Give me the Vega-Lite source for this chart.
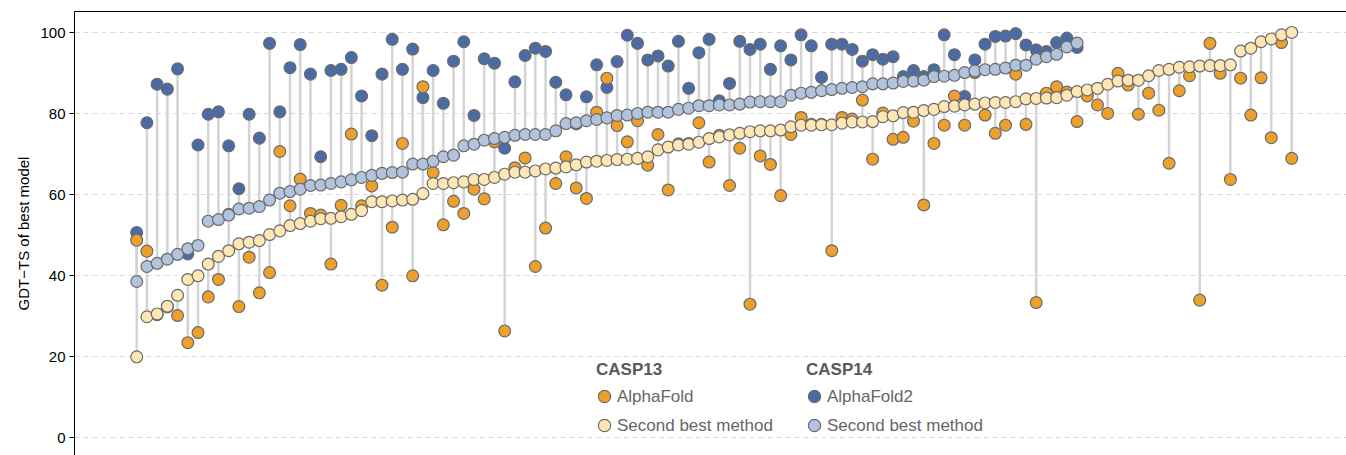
{
  "$schema": "https://vega.github.io/schema/vega-lite/v6.json",
  "width": 1272,
  "height": 444,
  "autosize": {"type": "none"},
  "padding": {"left": 74, "top": 11, "right": 0, "bottom": 0},
  "background": "white",
  "config": {
    "view": {"stroke": null},
    "font": "Liberation Sans",
    "axisY": {
      "grid": true,
      "gridColor": "#d9d9d9",
      "gridDash": [5, 4],
      "gridWidth": 1,
      "domain": true,
      "domainColor": "#000000",
      "domainWidth": 1,
      "ticks": true,
      "tickColor": "#000000",
      "tickSize": 5,
      "labelFont": "Liberation Sans",
      "labelFontSize": 15,
      "labelColor": "#000000",
      "labelPadding": 4,
      "titleFont": "Liberation Sans",
      "titleFontSize": 15,
      "titleFontWeight": "normal",
      "titleColor": "#000000",
      "titlePadding": 8
    },
    "legend": {
      "labelFont": "Liberation Sans",
      "titleFont": "Liberation Sans",
      "labelFontSize": 17,
      "labelColor": "#666666",
      "titleFontSize": 17,
      "titleFontWeight": "bold",
      "titleColor": "#595959",
      "titleAnchor": "start",
      "titlePadding": 9,
      "rowPadding": 10,
      "labelOffset": 4,
      "symbolType": "circle",
      "symbolSize": 150,
      "symbolStrokeColor": "#6b6b6b",
      "symbolStrokeWidth": 1.2,
      "symbolOpacity": 1,
      "padding": 0,
      "labelLimit": 300
    }
  },
  "datasets": {
    "casp13": [
      {"i":0,"af":48.6,"sb":19.8},{"i":1,"af":45.9,"sb":29.7},{"i":2,"af":30.2,"sb":30.4},{"i":3,"af":32.1,"sb":32.3},
      {"i":4,"af":30.0,"sb":35.0},{"i":5,"af":23.3,"sb":38.9},{"i":6,"af":25.8,"sb":39.8},{"i":7,"af":34.6,"sb":42.7},
      {"i":8,"af":38.9,"sb":44.6},{"i":9,"af":55.0,"sb":46.0},{"i":10,"af":32.2,"sb":47.7},{"i":11,"af":44.4,"sb":48.1},
      {"i":12,"af":35.6,"sb":48.5},{"i":13,"af":40.6,"sb":50.0},{"i":14,"af":70.5,"sb":50.9},{"i":15,"af":57.1,"sb":52.2},
      {"i":16,"af":63.7,"sb":52.7},{"i":17,"af":55.2,"sb":53.3},{"i":18,"af":54.8,"sb":53.9},{"i":19,"af":42.7,"sb":54.0},
      {"i":20,"af":57.2,"sb":54.4},{"i":21,"af":74.8,"sb":55.0},{"i":22,"af":57.1,"sb":55.9},{"i":23,"af":62.0,"sb":58.1},
      {"i":24,"af":37.5,"sb":58.1},{"i":25,"af":51.8,"sb":58.3},{"i":26,"af":72.5,"sb":58.5},{"i":27,"af":39.8,"sb":58.7},
      {"i":28,"af":86.5,"sb":60.1},{"i":29,"af":65.3,"sb":62.6},{"i":30,"af":52.4,"sb":62.6},{"i":31,"af":58.2,"sb":62.8},
      {"i":32,"af":55.2,"sb":63.0},{"i":33,"af":61.2,"sb":63.6},{"i":34,"af":58.8,"sb":63.6},{"i":35,"af":72.9,"sb":64.1},
      {"i":36,"af":26.2,"sb":64.9},{"i":37,"af":66.5,"sb":65.4},{"i":38,"af":68.9,"sb":65.4},{"i":39,"af":42.1,"sb":65.7},
      {"i":40,"af":51.6,"sb":66.2},{"i":41,"af":62.6,"sb":66.4},{"i":42,"af":69.2,"sb":66.7},{"i":43,"af":61.5,"sb":67.2},
      {"i":44,"af":58.9,"sb":67.9},{"i":45,"af":80.2,"sb":68.1},{"i":46,"af":88.6,"sb":68.3},{"i":47,"af":76.9,"sb":68.5},
      {"i":48,"af":72.9,"sb":68.6},{"i":49,"af":78.1,"sb":68.8},{"i":50,"af":67.1,"sb":69.2},{"i":51,"af":74.7,"sb":70.9},
      {"i":52,"af":61.0,"sb":71.6},{"i":53,"af":72.4,"sb":72.1},{"i":54,"af":72.5,"sb":72.3},{"i":55,"af":77.6,"sb":72.8},
      {"i":56,"af":67.9,"sb":73.7},{"i":57,"af":74.5,"sb":74.1},{"i":58,"af":62.1,"sb":74.6},{"i":59,"af":71.3,"sb":75.0},
      {"i":60,"af":32.8,"sb":75.4},{"i":61,"af":69.4,"sb":75.6},{"i":62,"af":67.3,"sb":75.6},{"i":63,"af":59.6,"sb":75.8},
      {"i":64,"af":74.7,"sb":76.6},{"i":65,"af":78.9,"sb":77.0},{"i":66,"af":77.2,"sb":77.0},{"i":67,"af":77.2,"sb":77.1},
      {"i":68,"af":46.0,"sb":77.1},{"i":69,"af":78.9,"sb":77.5},{"i":70,"af":78.5,"sb":77.8},{"i":71,"af":83.2,"sb":77.8},
      {"i":72,"af":68.6,"sb":77.9},{"i":73,"af":80.0,"sb":79.1},{"i":74,"af":73.5,"sb":79.3},{"i":75,"af":74.0,"sb":80.1},
      {"i":76,"af":78.0,"sb":80.2},{"i":77,"af":57.3,"sb":80.6},{"i":78,"af":72.5,"sb":80.9},{"i":79,"af":77.0,"sb":81.6},
      {"i":80,"af":84.2,"sb":81.7},{"i":81,"af":77.0,"sb":82.0},{"i":82,"af":90.0,"sb":82.2},{"i":83,"af":79.5,"sb":82.5},
      {"i":84,"af":75.0,"sb":82.6},{"i":85,"af":77.0,"sb":82.6},{"i":86,"af":89.6,"sb":82.8},{"i":87,"af":77.2,"sb":83.5},
      {"i":88,"af":33.2,"sb":83.6},{"i":89,"af":84.9,"sb":83.7},{"i":90,"af":86.5,"sb":83.8},{"i":91,"af":85.2,"sb":84.4},
      {"i":92,"af":77.9,"sb":85.3},{"i":93,"af":84.2,"sb":85.7},{"i":94,"af":82.0,"sb":86.1},{"i":95,"af":79.9,"sb":87.1},
      {"i":96,"af":89.8,"sb":87.9},{"i":97,"af":86.9,"sb":88.1},{"i":98,"af":79.7,"sb":88.1},{"i":99,"af":84.9,"sb":89.2},
      {"i":100,"af":80.7,"sb":90.5},{"i":101,"af":67.6,"sb":90.8},{"i":102,"af":85.5,"sb":91.3},{"i":103,"af":89.2,"sb":91.4},
      {"i":104,"af":33.8,"sb":91.6},{"i":105,"af":97.2,"sb":91.7},{"i":106,"af":89.8,"sb":91.7},{"i":107,"af":63.6,"sb":91.9},
      {"i":108,"af":88.6,"sb":95.3},{"i":109,"af":79.5,"sb":96.0},{"i":110,"af":88.7,"sb":97.6},{"i":111,"af":73.9,"sb":98.3},
      {"i":112,"af":97.4,"sb":99.3},{"i":113,"af":68.8,"sb":99.9}
    ],
    "casp14": [
      {"i":0,"af":50.5,"sb":38.4},{"i":1,"af":77.6,"sb":42.1},{"i":2,"af":87.1,"sb":42.9},{"i":3,"af":85.9,"sb":43.9},
      {"i":4,"af":90.9,"sb":45.1},{"i":5,"af":45.2,"sb":46.5},{"i":6,"af":72.1,"sb":47.3},{"i":7,"af":79.7,"sb":53.3},
      {"i":8,"af":80.3,"sb":53.7},{"i":9,"af":71.9,"sb":54.8},{"i":10,"af":61.3,"sb":56.3},{"i":11,"af":79.7,"sb":56.5},
      {"i":12,"af":73.8,"sb":56.9},{"i":13,"af":97.2,"sb":58.5},{"i":14,"af":80.3,"sb":60.2},{"i":15,"af":91.2,"sb":60.6},
      {"i":16,"af":96.9,"sb":61.2},{"i":17,"af":89.6,"sb":62.1},{"i":18,"af":69.2,"sb":62.2},{"i":19,"af":90.5,"sb":62.6},
      {"i":20,"af":90.8,"sb":63.0},{"i":21,"af":93.7,"sb":63.5},{"i":22,"af":84.2,"sb":64.1},{"i":23,"af":74.4,"sb":64.6},
      {"i":24,"af":89.6,"sb":65.1},{"i":25,"af":98.2,"sb":65.3},{"i":26,"af":90.8,"sb":65.4},{"i":27,"af":95.8,"sb":67.4},
      {"i":28,"af":83.8,"sb":67.4},{"i":29,"af":90.5,"sb":68.1},{"i":30,"af":82.4,"sb":69.2},{"i":31,"af":92.8,"sb":69.6},
      {"i":32,"af":97.6,"sb":71.9},{"i":33,"af":79.4,"sb":72.3},{"i":34,"af":93.4,"sb":73.3},{"i":35,"af":92.3,"sb":73.7},
      {"i":36,"af":71.3,"sb":74.0},{"i":37,"af":87.7,"sb":74.5},{"i":38,"af":94.2,"sb":74.7},{"i":39,"af":96.0,"sb":74.7},
      {"i":40,"af":95.2,"sb":74.7},{"i":41,"af":87.6,"sb":75.6},{"i":42,"af":84.5,"sb":77.4},{"i":43,"af":77.3,"sb":77.6},
      {"i":44,"af":84.0,"sb":78.1},{"i":45,"af":91.9,"sb":78.4},{"i":46,"af":86.3,"sb":78.8},{"i":47,"af":92.7,"sb":79.4},
      {"i":48,"af":99.2,"sb":79.5},{"i":49,"af":97.2,"sb":79.9},{"i":50,"af":93.1,"sb":80.2},{"i":51,"af":94.1,"sb":80.2},
      {"i":52,"af":91.6,"sb":80.2},{"i":53,"af":97.7,"sb":80.9},{"i":54,"af":86.1,"sb":81.2},{"i":55,"af":94.9,"sb":81.8},
      {"i":56,"af":98.2,"sb":81.8},{"i":57,"af":83.0,"sb":82.0},{"i":58,"af":87.3,"sb":82.0},{"i":59,"af":97.7,"sb":82.2},
      {"i":60,"af":95.7,"sb":82.7},{"i":61,"af":97.0,"sb":82.8},{"i":62,"af":90.8,"sb":82.8},{"i":63,"af":96.6,"sb":82.8},
      {"i":64,"af":93.1,"sb":84.4},{"i":65,"af":99.3,"sb":84.9},{"i":66,"af":96.6,"sb":85.1},{"i":67,"af":88.8,"sb":85.5},
      {"i":68,"af":97.0,"sb":85.8},{"i":69,"af":97.0,"sb":86.1},{"i":70,"af":95.7,"sb":86.3},{"i":71,"af":92.8,"sb":86.5},
      {"i":72,"af":94.4,"sb":87.2},{"i":73,"af":93.3,"sb":87.2},{"i":74,"af":93.9,"sb":87.4},{"i":75,"af":89.0,"sb":87.8},
      {"i":76,"af":90.5,"sb":87.9},{"i":77,"af":89.0,"sb":88.1},{"i":78,"af":90.7,"sb":89.0},{"i":79,"af":99.3,"sb":89.1},
      {"i":80,"af":94.4,"sb":89.3},{"i":81,"af":84.1,"sb":90.0},{"i":82,"af":93.1,"sb":90.4},{"i":83,"af":97.0,"sb":90.7},
      {"i":84,"af":98.9,"sb":90.8},{"i":85,"af":99.0,"sb":91.1},{"i":86,"af":99.6,"sb":91.8},{"i":87,"af":96.8,"sb":91.8},
      {"i":88,"af":95.6,"sb":93.3},{"i":89,"af":95.2,"sb":93.9},{"i":90,"af":97.4,"sb":94.5},{"i":91,"af":98.5,"sb":96.3},
      {"i":92,"af":96.2,"sb":97.3}
    ]
  },
  "encoding": {
    "x": {
      "field": "i", "type": "quantitative",
      "scale": {"domain": [-6.134, 118.31], "nice": false, "zero": false},
      "axis": {"orient": "top", "labels": false, "ticks": false, "grid": false, "title": null, "domain": true, "domainColor": "#000000", "domainWidth": 1}
    }
  },
  "layer": [
    {
      "data": {"name": "casp13"},
      "mark": {"type": "rule", "color": "#d4d4d4", "strokeWidth": 2.5},
      "encoding": {
        "y": {"field": "af", "type": "quantitative", "scale": {"domain": [-4.44, 105.19], "nice": false, "zero": false}, "axis": {"title": "GDT−TS of best model", "values": [0, 20, 40, 60, 80, 100]}},
        "y2": {"field": "sb"}
      }
    },
    {
      "data": {"name": "casp14"},
      "mark": {"type": "rule", "color": "#d4d4d4", "strokeWidth": 2.5},
      "encoding": {
        "y": {"field": "af", "type": "quantitative", "scale": {"domain": [-4.44, 105.19], "nice": false, "zero": false}, "axis": {"title": "GDT−TS of best model", "values": [0, 20, 40, 60, 80, 100]}},
        "y2": {"field": "sb"}
      }
    },
    {
      "data": {"name": "casp14"},
      "mark": {"type": "point", "shape": "circle", "filled": true, "size": 140, "stroke": "#6b6b6b", "strokeWidth": 1.2, "opacity": 1},
      "encoding": {
        "y": {"field": "af", "type": "quantitative", "scale": {"domain": [-4.44, 105.19], "nice": false, "zero": false}, "axis": {"title": "GDT−TS of best model", "values": [0, 20, 40, 60, 80, 100]}},
        "color": {
          "datum": "AlphaFold2",
          "scale": {"domain": ["AlphaFold2", "Second best method"], "range": ["#4A6BA5", "#B2C3DE"]},
          "legend": {"title": "CASP14", "orient": "none", "legendX": 732, "legendY": 351}
        }
      }
    },
    {
      "data": {"name": "casp13"},
      "mark": {"type": "point", "shape": "circle", "filled": true, "size": 140, "stroke": "#6b6b6b", "strokeWidth": 1.2, "opacity": 1},
      "encoding": {
        "y": {"field": "af", "type": "quantitative", "scale": {"domain": [-4.44, 105.19], "nice": false, "zero": false}, "axis": {"title": "GDT−TS of best model", "values": [0, 20, 40, 60, 80, 100]}},
        "fill": {
          "datum": "AlphaFold",
          "scale": {"domain": ["AlphaFold", "Second best method"], "range": ["#EDA12B", "#FFE6B5"]},
          "legend": {"title": "CASP13", "orient": "none", "legendX": 522, "legendY": 351}
        }
      }
    },
    {
      "data": {"name": "casp13"},
      "mark": {"type": "point", "shape": "circle", "filled": true, "size": 140, "stroke": "#6b6b6b", "strokeWidth": 1.2, "opacity": 1},
      "encoding": {
        "y": {"field": "sb", "type": "quantitative", "scale": {"domain": [-4.44, 105.19], "nice": false, "zero": false}, "axis": {"title": "GDT−TS of best model", "values": [0, 20, 40, 60, 80, 100]}},
        "fill": {"datum": "Second best method"}
      }
    },
    {
      "data": {"name": "casp14"},
      "mark": {"type": "point", "shape": "circle", "filled": true, "size": 140, "stroke": "#6b6b6b", "strokeWidth": 1.2, "opacity": 1},
      "encoding": {
        "y": {"field": "sb", "type": "quantitative", "scale": {"domain": [-4.44, 105.19], "nice": false, "zero": false}, "axis": {"title": "GDT−TS of best model", "values": [0, 20, 40, 60, 80, 100]}},
        "color": {"datum": "Second best method"}
      }
    }
  ]
}
